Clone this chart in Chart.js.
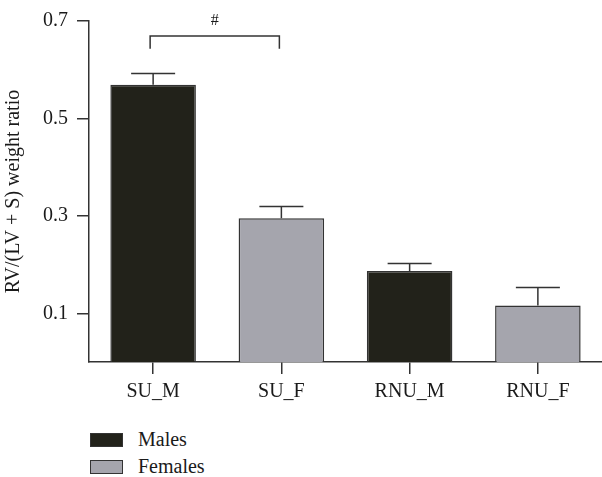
<!DOCTYPE html>
<html>
<head>
<meta charset="utf-8">
<script src="https://cdn.jsdelivr.net/npm/chart.js@4"></script>
<style>
  body { margin: 0; background: #fff; }
  #wrap { position: relative; width: 602px; height: 477px; }
  #chart1 { position: absolute; left: 0; top: 0; }
  #legend { position: absolute; left: 90px; top: 426px; font-family: "Liberation Serif", serif; font-size: 20px; color: #1a1a1a; }
  .item { display: flex; align-items: center; height: 27px; }
  .box { width: 31px; height: 12px; border: 1.5px solid #333; margin-right: 15px; }
</style>
</head>
<body>
<div id="wrap">
  <canvas id="chart1" width="602" height="410"></canvas>
  <div id="legend"></div>
</div>
<script>
var categories = ['SU_M', 'SU_F', 'RNU_M', 'RNU_F'];
var males = [0.569, null, 0.187, null];
var females = [null, 0.295, null, 0.116];
var malesErr = [0.023, null, 0.015, null];
var femalesErr = [null, 0.024, null, 0.037];
var yTicks = [0.1, 0.3, 0.5, 0.7];
var sigFrom = 0, sigTo = 1, sigLabel = '#';

var darkFill = '#22221a';
var greyFill = '#a5a5ad';
var edge = '#333333';
var font = '"Liberation Serif", serif';

var errorBars = {
  id: 'errorBars',
  afterDatasetsDraw: function(chart) {
    var ctx = chart.ctx;
    var y = chart.scales.y;
    ctx.save();
    ctx.strokeStyle = edge;
    ctx.lineWidth = 1.5;
    chart.data.datasets.forEach(function(ds, i) {
      var meta = chart.getDatasetMeta(i);
      meta.data.forEach(function(bar, j) {
        var v = ds.data[j];
        if (v == null) return;
        var top = y.getPixelForValue(v + ds.errors[j]);
        ctx.beginPath();
        ctx.moveTo(bar.x, bar.y);
        ctx.lineTo(bar.x, top);
        ctx.moveTo(bar.x - 22, top);
        ctx.lineTo(bar.x + 22, top);
        ctx.stroke();
      });
    });
    // significance bracket
    var x = chart.scales.x;
    var x1 = x.getPixelForValue(sigFrom) - 3;
    var x2 = x.getPixelForValue(sigTo) - 2;
    var yb = y.getPixelForValue(0.669);
    var yl = y.getPixelForValue(0.643);
    ctx.beginPath();
    ctx.moveTo(x1, yl);
    ctx.lineTo(x1, yb);
    ctx.lineTo(x2, yb);
    ctx.lineTo(x2, yl);
    ctx.stroke();
    ctx.fillStyle = '#1a1a1a';
    ctx.font = '16px ' + font;
    ctx.textAlign = 'center';
    ctx.textBaseline = 'middle';
    ctx.fillText(sigLabel, (x1 + x2) / 2, yb - 15);
    ctx.restore();
  }
};

function buildLegend(chart) {
  var el = document.getElementById('legend');
  chart.data.datasets.forEach(function(ds) {
    var row = document.createElement('div');
    row.className = 'item';
    row.innerHTML = '<span class="box" style="background:' + ds.backgroundColor + '"></span>' + ds.label;
    el.appendChild(row);
  });
}

document.addEventListener('DOMContentLoaded', function() {
  var chart = new Chart('chart1', {
    type: 'bar',
    data: {
      labels: categories,
      datasets: [{
        label: 'Males',
        data: males,
        errors: malesErr,
        backgroundColor: darkFill,
        borderColor: edge,
        borderWidth: 1.5,
        barPercentage: 0.667,
        categoryPercentage: 1
      }, {
        label: 'Females',
        data: females,
        errors: femalesErr,
        backgroundColor: greyFill,
        borderColor: edge,
        borderWidth: 1.5,
        barPercentage: 0.667,
        categoryPercentage: 1
      }]
    },
    options: {
      responsive: false,
      animation: false,
      skipNull: true,
      layout: { padding: { top: 19, right: 0, left: 0 } },
      plugins: { legend: { display: false }, tooltip: { enabled: false } },
      scales: {
        x: {
          grid: { offset: false, drawOnChartArea: false, tickLength: 12, color: edge, lineWidth: 1.5 },
          border: { color: edge, width: 1.5 },
          ticks: { color: '#1a1a1a', font: { family: font, size: 20 }, padding: 6, maxRotation: 0 }
        },
        y: {
          min: 0,
          max: 0.7,
          afterBuildTicks: function(axis) {
            axis.ticks = yTicks.map(function(v) { return { value: v }; });
          },
          grid: { drawOnChartArea: false, tickLength: 12, color: edge, lineWidth: 1.5 },
          border: { color: edge, width: 1.5 },
          ticks: { color: '#1a1a1a', font: { family: font, size: 20 }, padding: 9 },
          title: { display: true, text: 'RV/(LV + S) weight ratio', color: '#1a1a1a', font: { family: font, size: 20 }, padding: { top: 2, bottom: 8 } }
        }
      }
    },
    plugins: [errorBars]
  });
  buildLegend(chart);
});
</script>
</body>
</html>
